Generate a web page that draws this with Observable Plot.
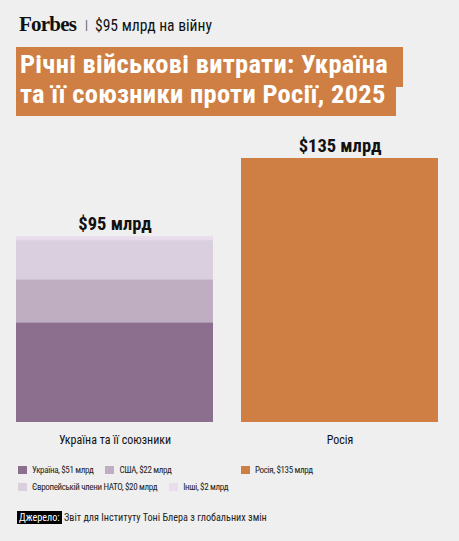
<!DOCTYPE html>
<html>
<head>
<meta charset="utf-8">
<script src="https://cdn.jsdelivr.net/npm/d3@7"></script>
<script src="https://cdn.jsdelivr.net/npm/@observablehq/plot@0.6"></script>
<style>
  html, body { margin: 0; padding: 0; background: #efefef; }
  body { width: 459px; height: 541px; position: relative; overflow: hidden;
         font-family: "Roboto Condensed", "Liberation Sans Narrow", "DejaVu Sans Condensed", Roboto, sans-serif; color: #111; }
  .cond { font-family: "Roboto Condensed", "Liberation Sans Narrow", "DejaVu Sans Condensed", Roboto, sans-serif; }
  #brand { position: absolute; left: 19px; top: 12px; display: flex; align-items: baseline; white-space: nowrap; }
  #brand .logo { font-family: "Liberation Serif", "DejaVu Serif", serif; font-weight: bold; font-size: 21px; letter-spacing: -0.8px; }
  #brand .sep { color: #555; font-size: 12px; margin: 0 7px 0 9px; position: relative; top: -2px; }
  #brand .sub { font-size: 15.6px; }
  .tbg { position: absolute; background: #cf7f43; }
  #title { position: absolute; left: 20px; top: 49px; font-size: 26.5px; letter-spacing: 0.3px; font-weight: bold; line-height: 29.7px; color: #fff; white-space: nowrap; }
  #chart { position: absolute; left: 0; top: 125px; }
  #legend { position: absolute; left: 18px; top: 462px; font-size: 9px; letter-spacing: -0.35px; color: #222; }
  .lrow { display: flex; height: 16.5px; align-items: center; }
  .item { display: flex; align-items: center; white-space: nowrap; }
  .sw { width: 9px; height: 8px; margin-right: 5px; }
  #source { position: absolute; left: 17px; top: 511px; font-size: 10.2px; line-height: 13px; white-space: nowrap; color: #222; }
  #source .lab { background: #000; color: #fff; padding: 1px 2px; }
</style>
</head>
<body>
<div id="brand" class="cond"><span class="logo">Forbes</span><span class="sep">|</span><span class="sub">$95 млрд на війну</span></div>
<div class="tbg" style="left:16px;top:47px;width:387px;height:40px"></div>
<div class="tbg" style="left:16px;top:87px;width:380px;height:29px"></div>
<div id="title" class="cond">Річні військові витрати: Україна<br>та її союзники проти Росії, 2025</div>
<div id="chart"></div>
<div id="legend" class="cond"></div>
<div id="source" class="cond"><span class="lab">Джерело:</span> Звіт для Інституту Тоні Блера з глобальних змін</div>
<script>
const groups = ["Україна та її союзники", "Росія"];
const parts = ["Україна", "США", "Європейській члени НАТО", "Інші", "Росія"];
const values = [51, 22, 20, 2, 135];
const partGroup = [0, 0, 0, 0, 1];
const colors = ["#8c6e8f", "#bfadc2", "#dacfdf", "#e9dded", "#cf7f43"];

const data = parts.map((p, i) => ({ part: p, group: groups[partGroup[i]], value: values[i] }));
const totals = groups.map(g => ({ group: g, total: d3.sum(data.filter(d => d.group === g), d => d.value) }));

const chart = Plot.plot({
  width: 459,
  height: 335,
  marginLeft: 16,
  marginRight: 21,
  marginTop: 33,
  marginBottom: 38,
  style: { background: "transparent", fontFamily: "'Roboto Condensed', 'Liberation Sans Narrow', 'DejaVu Sans Condensed', Roboto, sans-serif" },
  x: { domain: groups, paddingInner: 28 / 225, paddingOuter: 0, label: null },
  y: { domain: [0, 135], axis: null },
  color: { domain: parts, range: colors },
  marks: [
    Plot.barY(data, { x: "group", y: "value", fill: "part", order: null }),
    Plot.text(totals, { x: "group", y: "total", text: d => `$${d.total} млрд`, lineAnchor: "bottom", dy: -7, fontSize: 18.5, fontWeight: "bold", fill: "#111" }),
    Plot.axisX({ tickSize: 0, tickPadding: 13, fontSize: 12, label: null, color: "#111", stroke: "#111", strokeWidth: 0.35, style: { letterSpacing: "-0.35px" } })
  ]
});
document.getElementById("chart").appendChild(chart);

const rows = [[0, 1], [2, 3]];
const legend = document.getElementById("legend");
rows.forEach((r, ri) => {
  const row = document.createElement("div");
  row.className = "lrow";
  const left = document.createElement("div");
  left.style.display = "flex";
  left.style.width = "223px";
  left.style.gap = "12px";
  r.forEach(i => {
    const it = document.createElement("div");
    it.className = "item";
    it.innerHTML = `<span class="sw" style="background:${colors[i]}"></span>${parts[i]}, $${values[i]} млрд`;
    left.appendChild(it);
  });
  row.appendChild(left);
  if (ri === 0) {
    const it = document.createElement("div");
    it.className = "item";
    it.innerHTML = `<span class="sw" style="background:${colors[4]}"></span>${parts[4]}, $${values[4]} млрд`;
    row.appendChild(it);
  }
  legend.appendChild(row);
});
</script>
</body>
</html>
